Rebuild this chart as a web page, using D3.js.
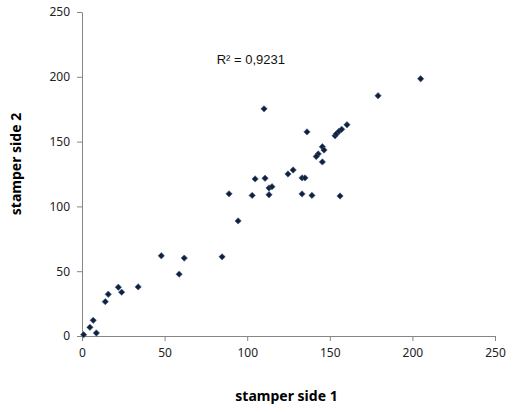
<!DOCTYPE html>
<html>
<head>
<meta charset="utf-8">
<script src="https://cdn.jsdelivr.net/npm/d3@7"></script>
<style>
  body { margin: 0; background: #fff; }
  .axis path, .axis line { stroke: #868686; }
  .axis text { font-family: "Noto Sans", sans-serif; font-size: 12px; fill: #222; }
</style>
</head>
<body>
<div id="chart"></div>
<script>
// stamper side 1 values
const side1 = [1, 4.8, 6.8, 8.7, 14.1, 15.9, 22, 24, 34, 48, 58.8, 61.9, 84.8, 89, 94.5,
  103, 104.8, 110.8, 110.2, 113.2, 115, 113.2, 124.7, 127.8, 133.2, 135, 133.2, 139.2,
  136.2, 145.5, 146.5, 143, 141.8, 145.5, 153.2, 154, 155.6, 157.2, 160.4, 156.2, 179.2, 205];
// stamper side 2 values
const side2 = [1, 6.7, 12.1, 2.3, 26.5, 32.2, 37.6, 33.8, 37.9, 61.9, 47.7, 60.1, 61.1, 109.7, 88.8,
  108.5, 121.2, 121.7, 175.3, 114.2, 115.2, 109, 125, 128.1, 122, 122, 109.6, 108.5,
  157.5, 146, 143.5, 140.5, 138.5, 134.3, 154.5, 156, 158, 159.5, 163, 108, 185.4, 198.5];
const xTicks = [0, 50, 100, 150, 200, 250];
const yTicks = [0, 50, 100, 150, 200, 250];
const rSquared = "R² = 0,9231";

const W = 522, H = 412;
const margin = { top: 12, right: 27, bottom: 76, left: 82 };
const width = W - margin.left - margin.right;
const height = H - margin.top - margin.bottom;

const svg = d3.select("#chart").append("svg")
  .attr("width", W)
  .attr("height", H);

const g = svg.append("g")
  .attr("transform", `translate(${margin.left},${margin.top})`);

const x = d3.scaleLinear().domain([0, 250]).range([0, width]);
const y = d3.scaleLinear().domain([0, 250]).range([height, 0]);

// axes
g.append("g")
  .attr("class", "axis")
  .attr("transform", `translate(0,${height})`)
  .call(d3.axisBottom(x).tickValues(xTicks).tickSize(5).tickPadding(7))
  .select(".domain").attr("d", `M0.5,0.5H${width + 0.5}`);

g.append("g")
  .attr("class", "axis")
  .call(d3.axisLeft(y).tickValues(yTicks).tickSize(5).tickPadding(7))
  .select(".domain").attr("d", `M0.5,${height + 0.5}V0.5`);

// points (small diamonds)
const pts = side1.map((v, i) => ({ a: v, b: side2[i] }));
g.selectAll(".pt")
  .data(pts)
  .enter().append("path")
  .attr("class", "pt")
  .attr("d", d3.symbol().type(d3.symbolSquare).size(20))
  .attr("transform", d => `translate(${x(d.a)},${y(d.b)}) rotate(45)`)
  .style("fill", "#13203a")
  .style("stroke", "#3a5a8c")
  .style("stroke-width", 0.6);

// R² label
g.append("text")
  .attr("x", x(81.5))
  .attr("y", y(210))
  .style("font-family", "'Liberation Sans', Arial, sans-serif")
  .style("font-size", "13px")
  .style("fill", "#111")
  .text(rSquared);

// axis titles
svg.append("text")
  .attr("x", margin.left + width / 2 - 2)
  .attr("y", 401)
  .attr("text-anchor", "middle")
  .style("font-family", "'Noto Sans', sans-serif")
  .style("font-weight", "bold")
  .style("font-size", "14px")
  .text("stamper side 1");

svg.append("text")
  .attr("transform", "translate(21,164) rotate(-90)")
  .attr("text-anchor", "middle")
  .style("font-family", "'Noto Sans', sans-serif")
  .style("font-weight", "bold")
  .style("font-size", "14px")
  .text("stamper side 2");
</script>
</body>
</html>
